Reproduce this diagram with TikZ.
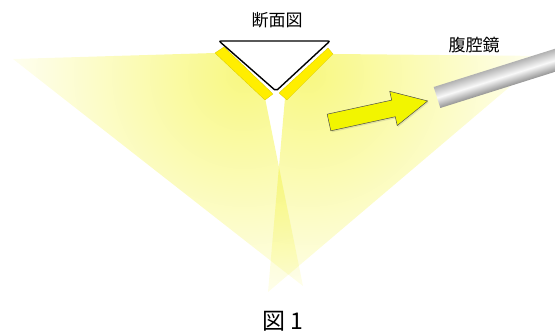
\documentclass[tikz,border=0pt]{standalone}
\usepackage{fontspec}
\newfontfamily\jpfont{Noto Sans CJK JP}
\usetikzlibrary{shadows}

\definecolor{beamyellow}{RGB}{248,248,130}
\definecolor{baryellow}{RGB}{255,238,0}
\definecolor{arrowyellow}{RGB}{242,245,0}

\begin{document}
\begin{tikzpicture}[x=1pt, y=1pt,
	beam/.style={inner color=beamyellow, outer color=white},
	bar/.style={fill=baryellow, draw=baryellow!85!black, line width=0.3pt},
	jptext/.style={font=\jpfont\fontsize{17}{20}\selectfont, inner sep=0pt, anchor=base}]
	\useasboundingbox (0,0) rectangle (555,334);

	% Light spread from both sides
	\begin{scope}[blend mode=multiply]
		\begin{scope}
			\clip (215,281) -- (13,275) -- (303,48) -- (265,236) -- cycle;
			\shade[beam] (244,260) circle (265);
		\end{scope}
		\begin{scope}
			\clip (333,280) -- (546,278) -- (268,42) -- (285,236) -- cycle;
			\shade[beam] (307,260) circle (265);
		\end{scope}
	\end{scope}

	% Yellow bars and the cross section
	\draw[bar] (215,281) -- (224,287) -- (273,240) -- (265,234) -- cycle;
	\draw[bar] (333,280) -- (328,286) -- (279,241) -- (287,234) -- cycle;
	\draw[fill=white, line width=1.4pt, rounded corners=2pt] (219,293) -- (330,293) -- (276,243) -- cycle;

	% Laparoscope tube
	\begin{scope}
		\clip (0,0) rectangle (555,334);
		\begin{scope}[transform canvas={shift={(437,236.5)}, rotate=17.5}]
			\shade[top color=gray!60, bottom color=gray!85, middle color=gray!5] (0,-11) rectangle (150,11);
		\end{scope}
	\end{scope}

	% Block arrow
	\begin{scope}[shift={(329,211.5)}, rotate=12.3]
		\draw[fill=arrowyellow, draw=black!70, line width=0.5pt,
			drop shadow={opacity=0.2, shadow xshift=1pt, shadow yshift=-1.5pt}]
			(0,8.5) -- (66,8.5) -- (66,17.5) -- (101,0) -- (66,-17.5) -- (66,-8.5) -- (0,-8.5) -- cycle;
	\end{scope}

	% Labels
	\node[jptext] (section) at (277,307) {断面図};
	\node[jptext] (laparoscope) at (474,282) {腹腔鏡};
	\node[jptext, font=\jpfont\fontsize{23}{26}\selectfont] (figno) at (282.5,4) {図 1};
\end{tikzpicture}
\end{document}
